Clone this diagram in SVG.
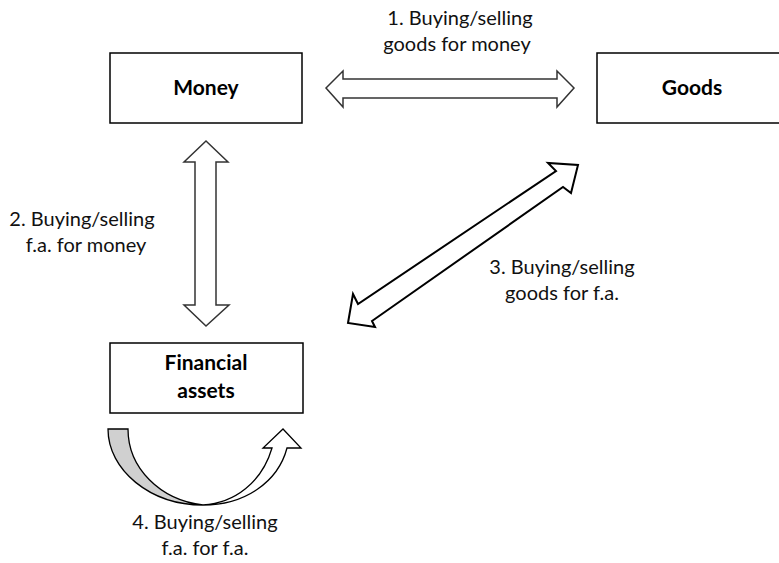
<svg xmlns="http://www.w3.org/2000/svg" width="779" height="563" viewBox="0 0 779 563">
<style>
.box{fill:#fff;stroke:#000;stroke-width:1.5}
.bl{font-family:Lato,"Open Sans","Liberation Sans",sans-serif;font-weight:bold;font-size:21px;fill:#000;text-anchor:middle}
.lb{font-family:Lato,"Open Sans","Liberation Sans",sans-serif;font-size:20px;fill:#111;text-anchor:middle}
.arr{fill:#fff;stroke:#333;stroke-width:1.5;stroke-linejoin:miter}
.arr2{fill:#fff;stroke:#000;stroke-width:2;stroke-linejoin:miter}
</style>
<rect width="779" height="563" fill="#fff"/>
<g id="money"><rect class="box" x="110" y="53" width="192" height="70"/><text class="bl" x="206" y="95">Money</text></g>
<g id="goods"><rect class="box" x="597" y="53" width="200" height="70"/><text class="bl" x="692" y="95">Goods</text></g>
<g id="financial-assets"><rect class="box" x="110" y="343" width="193" height="70"/><text class="bl" x="206" y="370">Financial</text><text class="bl" x="206" y="398">assets</text></g>
<g id="connectors">
<polygon class="arr" points="326,88 343,71 343,79 557,79 557,71 574,88 557,107 557,98 343,98 343,107"/>
<polygon class="arr" points="206,141 228,162 216,162 216,305 229,305 206,326 184,305 195,305 195,162 184,162"/>
<polygon class="arr2" points="348,323 353,294 358,304 556,171 548,163 578,165 571,193 563,187 372,321 375,327"/>
<path d="M108,429 L128,429 C128,468 160,500 203,505 C150,505 108,470 108,429 Z" fill="#d0d0d0" stroke="#000" stroke-width="1.3"/>
<path d="M203,505 C245,505 278,482 287,448 L301,448 L283,429 L263,448 L272,448 C262,482 235,503 203,505 Z" fill="#fff" stroke="#000" stroke-width="1.3"/>
</g>
<g id="labels">
<text class="lb" x="460" y="25">1. Buying/selling</text>
<text class="lb" x="457" y="51">goods for money</text>
<text class="lb" x="82" y="226">2. Buying/selling</text>
<text class="lb" x="86" y="252">f.a. for money</text>
<text class="lb" x="562" y="274">3. Buying/selling</text>
<text class="lb" x="562" y="300">goods for f.a.</text>
<text class="lb" x="205" y="529">4. Buying/selling</text>
<text class="lb" x="205" y="555">f.a. for f.a.</text>
</g>
</svg>
